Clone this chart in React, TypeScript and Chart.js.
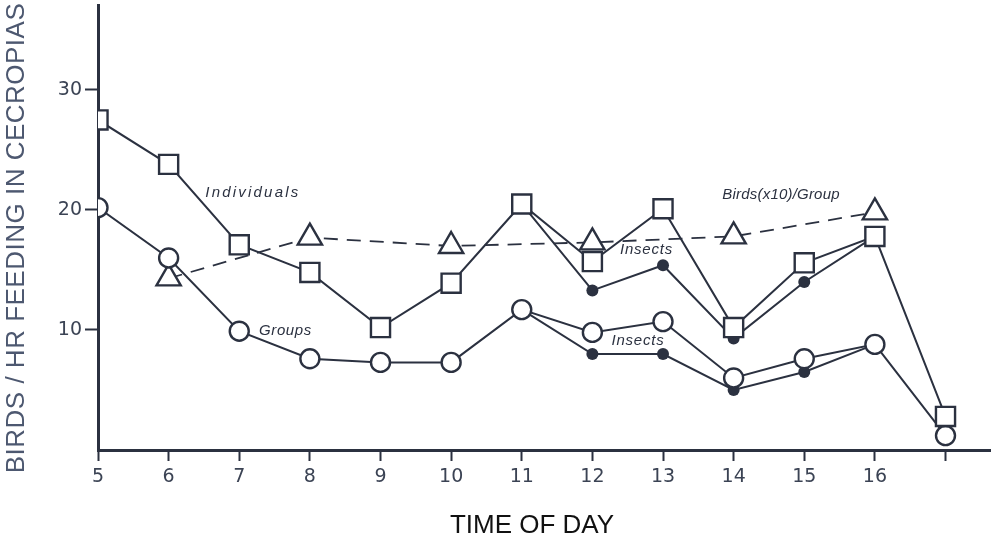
import React, { useEffect, useRef } from 'react';
import { Chart, registerables } from 'chart.js';

Chart.register(...registerables);

// ---- data ----
const hours = [5, 6, 7, 8, 9, 10, 11, 12, 13, 14, 15, 16, 17];
const individuals = [27.5, 23.8, 17.1, 14.8, 10.2, 13.9, 20.5, 15.7, 20.1, 10.2, 15.6, 17.8, 2.8];
const groups = [20.2, 16.0, 9.9, 7.6, 7.3, 7.3, 11.7, 9.8, 10.7, 6.0, 7.6, 8.8, 1.2];
const birdsPerGroupHours = [6, 8, 10, 12, 14, 16];
const birdsPerGroup = [14.3, 17.7, 17.0, 17.3, 17.8, 19.8];
const insectsHours = [11, 12, 13, 14, 15, 16];
const insectsIndividuals = [20.5, 13.3, 15.4, 9.3, 14.0, 17.8];
const insectsGroups = [11.7, 8.0, 8.0, 5.0, 6.5, 8.8];
const xTickValues = [5, 6, 7, 8, 9, 10, 11, 12, 13, 14, 15, 16, 17];
const xTickLabels = ['5', '6', '7', '8', '9', '10', '11', '12', '13', '14', '15', '16', ''];
const yTickValues = [10, 20, 30];
const yTickLabels = ['10', '20', '30'];

const yTitle = 'BIRDS / HR FEEDING IN CECROPIAS';
const xTitle = 'TIME OF DAY';

const annotations = [
  { text: 'Individuals', x: 6.52, y: 21.4, spacing: 2.2 },
  { text: 'Groups', x: 7.28, y: 9.9, spacing: 0.6 },
  { text: 'Insects', x: 12.39, y: 16.7, spacing: 0.8 },
  { text: 'Insects', x: 12.27, y: 9.1, spacing: 0.8 },
  { text: 'Birds(x10)/Group', x: 13.84, y: 21.25, spacing: 0.2 },
];

const INK = '#2b3140';
const TICK_INK = '#3b4354';
const TITLE_INK = '#4d5870';

const pts = (xs: number[], ys: number[]) => xs.map((x, i) => ({ x, y: ys[i] }));

const zeroPadding = (s: any) => {
  s.paddingLeft = 0;
  s.paddingRight = 0;
  s.paddingTop = 0;
  s.paddingBottom = 0;
};

const textPlugin = {
  id: 'textPlugin',
  afterDraw(chart: any) {
    const ctx = chart.ctx;
    const xs = chart.scales.x;
    const ys = chart.scales.y;
    ctx.save();
    // annotations
    ctx.fillStyle = INK;
    ctx.font = 'italic 15px "Liberation Sans", Arial, sans-serif';
    ctx.textAlign = 'left';
    ctx.textBaseline = 'middle';
    annotations.forEach((a) => {
      try { (ctx as any).letterSpacing = a.spacing + 'px'; } catch (e) {}
      ctx.fillText(a.text, xs.getPixelForValue(a.x), ys.getPixelForValue(a.y));
    });
    try { (ctx as any).letterSpacing = '0px'; } catch (e) {}
    // x title
    ctx.fillStyle = '#111111';
    ctx.font = '26px "Liberation Sans", Arial, sans-serif';
    ctx.textAlign = 'center';
    ctx.textBaseline = 'middle';
    ctx.fillText(xTitle, 532, 526);
    // y title
    ctx.translate(17, 238);
    ctx.rotate(-Math.PI / 2);
    ctx.fillStyle = TITLE_INK;
    ctx.font = '26px "Liberation Sans", Arial, sans-serif';
    try { (ctx as any).letterSpacing = '0.5px'; } catch (e) {}
    ctx.fillText(yTitle, 0, 0);
    ctx.restore();
  },
};

export default function App() {
  const ref = useRef<HTMLCanvasElement | null>(null);

  useEffect(() => {
    if (!ref.current) return;
    const chart = new Chart(ref.current, {
      type: 'scatter',
      data: {
        datasets: [
          {
            label: 'Individuals',
            data: pts(hours, individuals),
            showLine: true,
            borderColor: INK,
            borderWidth: 2,
            pointStyle: 'rect',
            pointRadius: 13.5,
            pointBorderWidth: 2.4,
            pointBorderColor: INK,
            pointBackgroundColor: '#ffffff',
            clip: 0,
          } as any,
          {
            label: 'Groups',
            data: pts(hours, groups),
            showLine: true,
            borderColor: INK,
            borderWidth: 2,
            pointStyle: 'circle',
            pointRadius: 9.5,
            pointBorderWidth: 2.4,
            pointBorderColor: INK,
            pointBackgroundColor: '#ffffff',
            clip: 0,
          } as any,
          {
            label: 'Birds(x10)/Group',
            data: pts(birdsPerGroupHours, birdsPerGroup),
            showLine: true,
            borderColor: INK,
            borderWidth: 1.8,
            borderDash: [14, 9],
            pointStyle: 'triangle',
            pointRadius: 14,
            pointBorderWidth: 2.4,
            pointBorderColor: INK,
            pointBackgroundColor: '#ffffff',
          } as any,
          {
            label: 'Insects (individuals)',
            data: pts(insectsHours, insectsIndividuals),
            showLine: true,
            borderColor: INK,
            borderWidth: 2,
            pointStyle: 'circle',
            pointRadius: [0, 6, 6, 6, 6, 0],
            pointBorderWidth: 0,
            pointBackgroundColor: INK,
          } as any,
          {
            label: 'Insects (groups)',
            data: pts(insectsHours, insectsGroups),
            showLine: true,
            borderColor: INK,
            borderWidth: 2,
            pointStyle: 'circle',
            pointRadius: [0, 6, 6, 6, 6, 0],
            pointBorderWidth: 0,
            pointBackgroundColor: INK,
          } as any,
        ],
      },
      options: {
        responsive: false,
        animation: false,
        devicePixelRatio: 1,
        events: [],
        layout: { autoPadding: false, padding: { top: 5, right: 2, left: 0, bottom: 0 } },
        plugins: {
          legend: { display: false },
          tooltip: { enabled: false },
          title: { display: false },
        },
        scales: {
          x: {
            type: 'linear',
            min: 5,
            max: 17.63,
            afterFit: (s: any) => { s.height = 91; zeroPadding(s); },
            afterBuildTicks: (s: any) => { s.ticks = xTickValues.map((v) => ({ value: v })); },
            ticks: {
              callback: (v: any) => xTickLabels[xTickValues.indexOf(Number(v))] ?? '',
              color: TICK_INK,
              font: { family: '"DejaVu Sans", sans-serif', size: 19 },
              padding: 5,
              maxRotation: 0,
              autoSkip: false,
            },
            grid: { display: true, drawOnChartArea: false, drawTicks: true, tickLength: 11, tickWidth: 2, tickColor: INK },
            border: { display: true, color: INK, width: 3 },
          },
          y: {
            type: 'linear',
            min: 0,
            max: 37.08,
            afterFit: (s: any) => { s.width = 98; zeroPadding(s); },
            afterBuildTicks: (s: any) => { s.ticks = yTickValues.map((v) => ({ value: v })); },
            ticks: {
              callback: (v: any) => yTickLabels[yTickValues.indexOf(Number(v))] ?? '',
              color: TICK_INK,
              font: { family: '"DejaVu Sans", sans-serif', size: 19 },
              padding: 3,
            },
            grid: { display: true, drawOnChartArea: false, drawTicks: true, tickLength: 13, tickWidth: 2, tickColor: INK },
            border: { display: true, color: INK, width: 3 },
          },
        },
      } as any,
      plugins: [textPlugin],
    });
    return () => chart.destroy();
  }, []);

  return (
    <div style={{ position: 'absolute', left: 0, top: 0, width: 992, height: 541, background: '#ffffff' }}>
      <canvas ref={ref} width={992} height={541} style={{ display: 'block', width: 992, height: 541 }} />
    </div>
  );
}
